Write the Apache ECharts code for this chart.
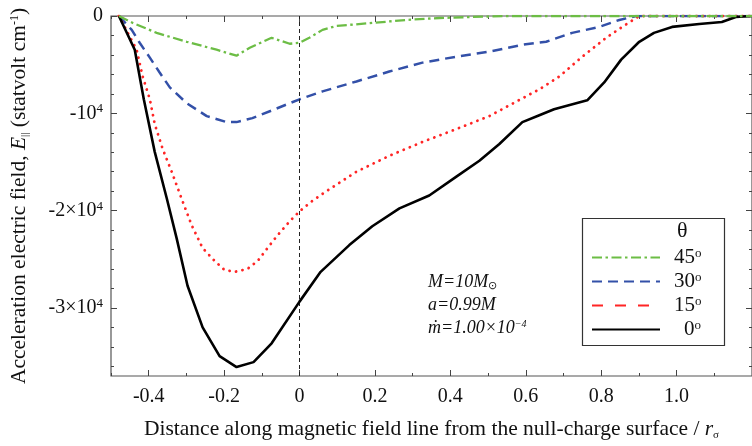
<!DOCTYPE html>
<html>
<head>
<meta charset="utf-8">
<script src="https://cdn.jsdelivr.net/npm/echarts@6/dist/echarts.min.js"></script>
<style>
  html, body { margin: 0; padding: 0; background: #fff; }
  #chart { width: 752px; height: 446px; }
</style>
</head>
<body>
<div id="chart"></div>
<script>
// Parallel electric field along a field line, for four inclination angles θ.
// Each point: [distance from the null-charge surface / r_g, E_parallel in statvolt cm^-1]
const theta45 = [
  [-0.479, 0], [-0.442, -713], [-0.379, -1733], [-0.299, -2650], [-0.220, -3466],
  [-0.167, -4077], [-0.132, -3262], [-0.074, -2242], [-0.026, -2854], [0.000, -2752],
  [0.026, -2242], [0.061, -1427], [0.098, -1019], [0.193, -713], [0.283, -408],
  [0.371, -204], [0.458, -102], [0.548, 0], [1.200, 0]
];
const theta30 = [
  [-0.479, 0], [-0.445, -1427], [-0.424, -2752], [-0.397, -4281], [-0.371, -5810],
  [-0.344, -7339], [-0.299, -8970], [-0.246, -10295], [-0.193, -10907], [-0.167, -10907],
  [-0.125, -10499], [-0.072, -9683], [0.000, -8562], [0.061, -7747], [0.151, -6727],
  [0.238, -5708], [0.326, -4791], [0.416, -4179], [0.503, -3669], [0.591, -2956],
  [0.654, -2650], [0.723, -1733], [0.795, -1121], [0.848, -408], [0.893, 0], [1.200, 0]
];
const theta15 = [
  [-0.479, 0], [-0.432, -3466], [-0.416, -6218], [-0.397, -8562], [-0.384, -11110],
  [-0.363, -13659], [-0.339, -16003], [-0.313, -18755], [-0.286, -21507], [-0.257, -23852],
  [-0.225, -25177], [-0.199, -26094], [-0.172, -26298], [-0.138, -25992], [-0.111, -25177],
  [-0.085, -23852], [-0.058, -22526], [-0.026, -21099], [0.000, -20080], [0.032, -19061],
  [0.066, -18143], [0.151, -16003], [0.238, -14372], [0.326, -12945], [0.416, -11620],
  [0.503, -10295], [0.591, -8460], [0.636, -7543], [0.689, -6218], [0.750, -4179],
  [0.813, -2242], [0.856, -1121], [0.901, 0], [1.200, 0]
];
const theta0 = [
  [-0.479, 0], [-0.437, -3466], [-0.413, -8562], [-0.384, -13964], [-0.352, -18755],
  [-0.326, -22832], [-0.297, -27725], [-0.257, -32006], [-0.212, -34962], [-0.167, -36083],
  [-0.122, -35574], [-0.074, -33637], [0.000, -29356], [0.056, -26298], [0.132, -23546],
  [0.193, -21609], [0.265, -19774], [0.344, -18449], [0.416, -16513], [0.477, -14882],
  [0.530, -13149], [0.591, -10907], [0.636, -10193], [0.675, -9581], [0.763, -8664],
  [0.808, -6829], [0.853, -4485], [0.901, -2650], [0.940, -1733], [0.988, -1121],
  [1.060, -815], [1.120, -612], [1.157, -102], [1.200, 0]
];

const angleNames = ['45', '30', '15', '0'];

// Tick positions
const xMajorTicks = [-0.4, -0.2, 0, 0.2, 0.4, 0.6, 0.8, 1.0];
const xMinorTicks = [-0.5, -0.3, -0.1, 0.1, 0.3, 0.5, 0.7, 0.9, 1.1];
const yMajorTicks = [0, -10000, -20000, -30000];
const yMinorTicks = [-2000, -4000, -6000, -8000, -12000, -14000, -16000, -18000,
  -22000, -24000, -26000, -28000, -32000, -34000, -36000];
const yTickLabels = ['0', '-10{sup|4}', '-2×10{sup|4}', '-3×10{sup|4}'];

const X_MIN = -0.5, X_MAX = 1.2, Y_MIN = -37000, Y_MAX = 0;
const SERIF = '"Liberation Serif", "Times New Roman", serif';
const INK = '#111';

function xAxisCfg(position, ticks, len, withLabels) {
  const a = {
    type: 'value', min: X_MIN, max: X_MAX, position: position,
    axisLine: { show: false, onZero: false },
    splitLine: { show: false },
    axisTick: { show: true, inside: true, length: len, customValues: ticks,
      lineStyle: { color: '#444', width: 1 } },
    axisLabel: { show: false }
  };
  if (withLabels) {
    a.axisLabel = {
      show: true, customValues: xMajorTicks, margin: 11,
      fontFamily: SERIF, fontSize: 20, color: INK,
      formatter: v => (Math.abs(v) < 1e-9 ? '0' : v.toFixed(1))
    };
    a.name = 'Distance along magnetic field line from the null-charge surface / {it|r}{sub|σ}';
    a.nameLocation = 'middle';
    a.nameGap = 42;
    a.nameTextStyle = {
      fontFamily: SERIF, fontSize: 21.5, color: INK,
      rich: {
        it: { fontFamily: SERIF, fontSize: 21.5, fontStyle: 'italic', color: INK },
        sub: { fontFamily: SERIF, fontSize: 11, color: INK, padding: [12, 0, 0, 0] }
      }
    };
  }
  return a;
}

function yAxisCfg(position, ticks, len, withLabels) {
  const a = {
    type: 'value', min: Y_MIN, max: Y_MAX, position: position,
    axisLine: { show: false, onZero: false },
    splitLine: { show: false },
    axisTick: { show: true, inside: true, length: len, customValues: ticks,
      lineStyle: { color: '#444', width: 1 } },
    axisLabel: { show: false }
  };
  if (withLabels) {
    a.axisLabel = {
      show: true, customValues: yMajorTicks, margin: 8,
      fontFamily: SERIF, fontSize: 20, color: INK,
      formatter: v => yTickLabels[yMajorTicks.indexOf(v)] || '',
      rich: { sup: { fontFamily: SERIF, fontSize: 13, color: INK, padding: [0, 0, 9, 0] } }
    };
    a.name = 'Acceleration electric field, {it|E}{sub|||} (statvolt cm{sup|-1})';
    a.nameLocation = 'middle';
    a.nameGap = 80;
    a.nameTextStyle = {
      fontFamily: SERIF, fontSize: 21.5, color: INK,
      rich: {
        it: { fontFamily: SERIF, fontSize: 21.5, fontStyle: 'italic', color: INK },
        sub: { fontFamily: SERIF, fontSize: 11, color: INK, padding: [12, 0, 0, 0] },
        sup: { fontFamily: SERIF, fontSize: 12, color: INK, padding: [0, 0, 9, 0] }
      }
    };
  }
  return a;
}

const chart = echarts.init(document.getElementById('chart'), null, { renderer: 'canvas' });

const option = {
  animation: false,
  backgroundColor: '#fff',
  grid: {
    left: 111, top: 16, width: 642, height: 363,
    show: true, borderColor: '#555', borderWidth: 1.2, backgroundColor: 'transparent'
  },
  xAxis: [
    xAxisCfg('bottom', xMajorTicks, 6, true),
    xAxisCfg('bottom', xMinorTicks, 3, false),
    xAxisCfg('top', xMajorTicks, 6, false),
    xAxisCfg('top', xMinorTicks, 3, false)
  ],
  yAxis: [
    yAxisCfg('left', yMajorTicks, 6, true),
    yAxisCfg('left', yMinorTicks, 3, false),
    yAxisCfg('right', yMajorTicks, 6, false),
    yAxisCfg('right', yMinorTicks, 3, false)
  ],
  legend: {
    orient: 'vertical', left: 591, top: 247, padding: 0,
    itemWidth: 68, itemHeight: 14, itemGap: 3,
    itemStyle: { opacity: 0, borderWidth: 0 },
    data: [
      { name: angleNames[0] },
      { name: angleNames[1] },
      { name: angleNames[2], lineStyle: { type: [11, 12], cap: 'butt' } },
      { name: angleNames[3] }
    ],
    formatter: n => (n.length > 1 ? '{n|' + n + '}' : '{n1|' + n + '}') + '{d|o}',
    textStyle: {
      fontFamily: SERIF, fontSize: 21, color: INK, lineHeight: 21,
      rich: {
        n: { fontFamily: SERIF, fontSize: 21, color: INK, lineHeight: 21, padding: [0, 0, 0, 9] },
        n1: { fontFamily: SERIF, fontSize: 21, color: INK, lineHeight: 21, padding: [0, 0, 0, 19] },
        d: { fontFamily: SERIF, fontSize: 13, color: INK, lineHeight: 21, padding: [0, 0, 8, 0] }
      }
    }
  },
  graphic: [
    { type: 'rect', left: 580, top: 216, shape: { width: 142, height: 127 },
      style: { fill: 'none', stroke: '#333', lineWidth: 1.2 }, z: 10 },
    { type: 'text', left: 677, top: 220, z: 11,
      style: { text: 'θ', fontFamily: SERIF, fontSize: 22, fill: INK } },
    { type: 'text', left: 428, top: 271, z: 11,
      style: {
        text: '{i|M=10M}{s|⊙}\n{i|a=0.99M}\n{i|ṁ=1.00×10}{p|−4}',
        lineHeight: 23,
        rich: {
          i: { fontFamily: SERIF, fontSize: 18, fontStyle: 'italic', fill: INK, lineHeight: 23 },
          s: { fontFamily: SERIF, fontSize: 11, fill: INK, lineHeight: 23, padding: [8, 0, 0, 0] },
          p: { fontFamily: SERIF, fontSize: 10, fontStyle: 'italic', fill: INK, lineHeight: 23, padding: [0, 0, 8, 0] }
        }
      } }
  ],
  series: [
    {
      name: angleNames[3], type: 'line', data: theta0, symbol: 'none', smooth: false, z: 5,
      lineStyle: { color: '#000', width: 2.6, type: 'solid' },
      itemStyle: { color: '#000' },
      markLine: {
        silent: true, symbol: 'none', label: { show: false },
        lineStyle: { color: '#222', width: 1, type: [4, 3] },
        data: [{ xAxis: 0 }]
      }
    },
    {
      name: angleNames[2], type: 'line', data: theta15, symbol: 'none', z: 4,
      lineStyle: { color: '#ff2525', width: 2.8, type: [0.1, 6.5], cap: 'round' },
      itemStyle: { color: '#ff2525' }
    },
    {
      name: angleNames[1], type: 'line', data: theta30, symbol: 'none', z: 3,
      lineStyle: { color: '#3350a8', width: 2.5, type: [10, 6] },
      itemStyle: { color: '#3350a8' }
    },
    {
      name: angleNames[0], type: 'line', data: theta45, symbol: 'none', z: 6,
      lineStyle: { color: '#6cbd45', width: 2.3, type: [10, 3.5, 2.5, 3.5] },
      itemStyle: { color: '#6cbd45' }
    }
  ]
};

chart.setOption(option);
</script>
</body>
</html>
